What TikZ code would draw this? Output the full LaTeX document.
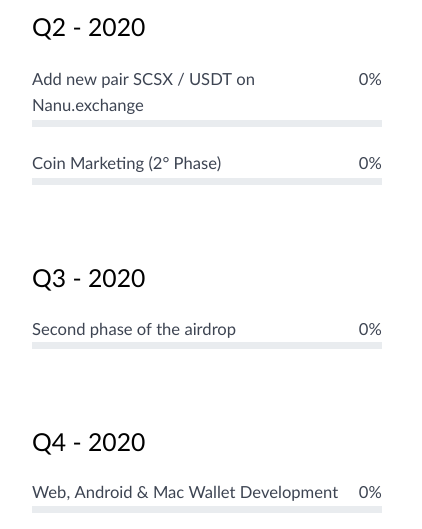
\documentclass[tikz,border=0pt]{standalone}
\usepackage{fontspec}
\setmainfont{Lato}
\usepackage{tikz}
\usetikzlibrary{positioning}
\definecolor{itemgray}{HTML}{3D4452}
\definecolor{bargray}{HTML}{E9ECEF}

\begin{document}
\begin{tikzpicture}[x=1pt,y=1pt]

	\def\xl{32}
	\def\xr{382}
	% Stile
	\tikzset{
		quarter/.style={anchor=base west, inner sep=0pt, text=black, font=\fontsize{24.7}{30}\selectfont},
		task/.style={anchor=base west, inner sep=0pt, text=itemgray, font=\fontsize{16.6}{20}\selectfont},
		percent/.style={anchor=base east, inner sep=0pt, text=itemgray, font=\fontsize{16.6}{20}\selectfont},
		bar/.style={anchor=north west, inner sep=0pt, fill=bargray, minimum width=350pt, minimum height=7pt}
	}

	\useasboundingbox (0,0) rectangle (421,-529);

	% Q2
	\node[quarter] (q2) at (\xl,-37) {Q2 - 2020};
	\node[task] (t1a) at (\xl,-86) {Add new pair SCSX / USDT on};
	\node[task] (t1b) at (\xl,-112) {Nanu.exchange};
	\node[percent] (p1) at (\xr,-86) {0\%};
	\node[bar] (b1) at (\xl,-120) {};

	\node[task] (t2) at (\xl,-170) {Coin Marketing (2° Phase)};
	\node[percent] (p2) at (\xr,-170) {0\%};
	\node[bar] (b2) at (\xl,-178) {};

	% Q3
	\node[quarter] (q3) at (\xl,-287) {Q3 - 2020};
	\node[task] (t3) at (\xl,-335) {Second phase of the airdrop};
	\node[percent] (p3) at (\xr,-335) {0\%};
	\node[bar] (b3) at (\xl,-342) {};

	% Q4
	\node[quarter] (q4) at (\xl,-451) {Q4 - 2020};
	\node[task] (t4) at (\xl,-498) {Web, Android \& Mac Wallet Development};
	\node[percent] (p4) at (\xr,-498) {0\%};
	\node[bar] (b4) at (\xl,-506) {};

\end{tikzpicture}
\end{document}
